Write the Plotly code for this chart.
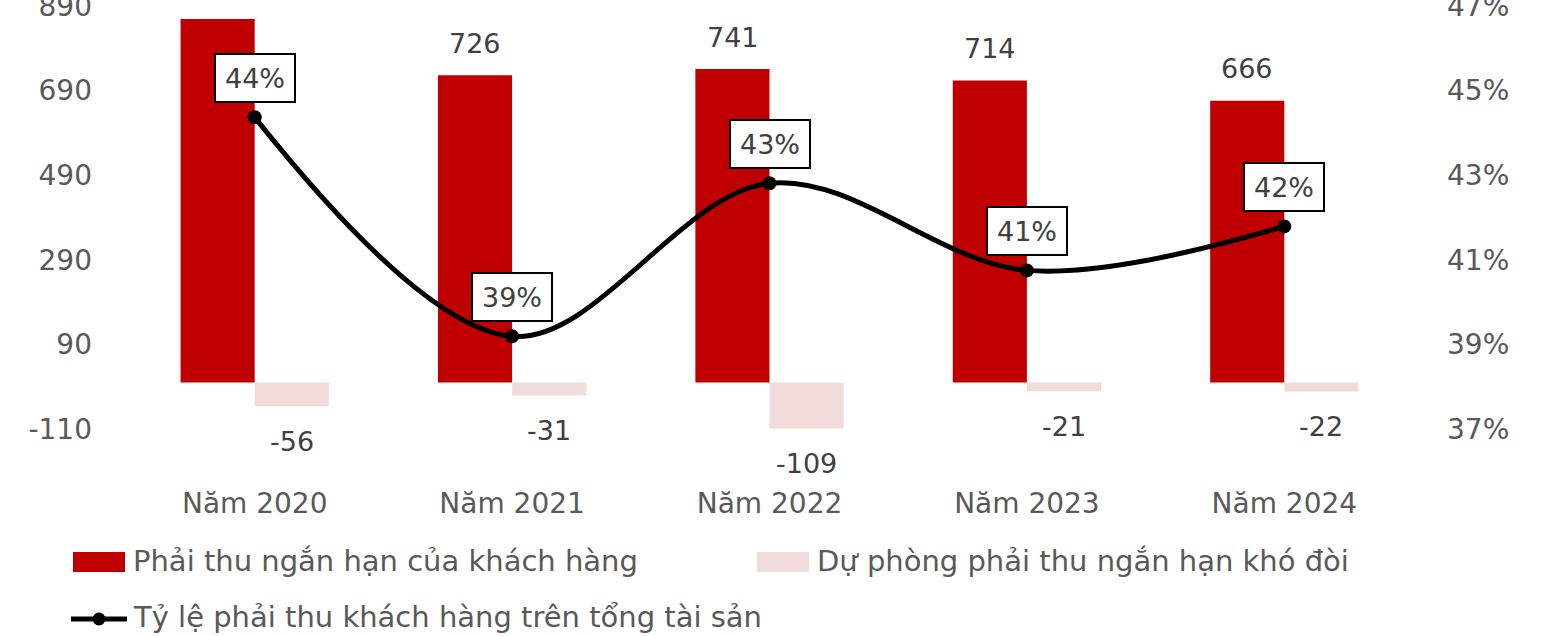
import plotly.graph_objects as go

categories = ["Năm 2020", "Năm 2021", "Năm 2022", "Năm 2023", "Năm 2024"]
receivables = [859, 726, 741, 714, 666]
provisions = [-56, -31, -109, -21, -22]
ratio = [0.4437, 0.3919, 0.4281, 0.4075, 0.4179]
ratio_labels = ["44%", "39%", "43%", "41%", "42%"]
left_ticks = [-110, 90, 290, 490, 690, 890]
right_ticks = [0.37, 0.39, 0.41, 0.43, 0.45, 0.47]

name_rec = "Phải thu ngắn hạn của khách hàng"
name_prov = "Dự phòng phải thu ngắn hạn khó đòi"
name_ratio = "Tỷ lệ phải thu khách hàng trên tổng tài sản"

RED = "#C00000"
PINK = "#F2DCDB"
FONT = "DejaVu Sans"
AXIS_GREY = "#595959"
LABEL_GREY = "#404040"

W, H = 1549, 636
L, R, T, B = 126, 136, 6, 207
PW, PH = W - L - R, H - T - B


def px(x):
    return (x - L) / PW


def py(y):
    return (H - B - y) / PH


fig = go.Figure()
fig.add_trace(go.Bar(x=categories, y=receivables, name=name_rec,
                     marker=dict(color=RED, line=dict(width=0)), showlegend=False))
fig.add_trace(go.Bar(x=categories, y=provisions, name=name_prov,
                     marker=dict(color=PINK, line=dict(width=0)), showlegend=False))
fig.add_trace(go.Scatter(x=categories, y=ratio, name=name_ratio, yaxis="y2",
                         mode="lines+markers",
                         line=dict(color="black", width=5, shape="spline", smoothing=1.0),
                         marker=dict(color="black", size=14), showlegend=False))

annotations = []
for i, v in enumerate(receivables):
    annotations.append(dict(x=categories[i], y=v, xref="x", yref="y", text=str(v),
                            showarrow=False, xshift=-37, yshift=32,
                            font=dict(family=FONT, size=27, color=LABEL_GREY)))
for i, v in enumerate(provisions):
    annotations.append(dict(x=categories[i], y=v, xref="x", yref="y", text=str(v),
                            showarrow=False, xshift=37, yshift=-35,
                            font=dict(family=FONT, size=27, color=LABEL_GREY)))
for i, v in enumerate(ratio):
    annotations.append(dict(x=categories[i], y=v, xref="x", yref="y2", text=ratio_labels[i],
                            showarrow=False, yshift=39, width=66, height=34,
                            bgcolor="white", bordercolor="black", borderwidth=2, borderpad=6,
                            font=dict(family=FONT, size=27, color=LABEL_GREY)))

# custom legend
shapes = [
    dict(type="rect", xref="paper", yref="paper", x0=px(73), x1=px(125), y0=py(572), y1=py(552),
         fillcolor=RED, line=dict(width=0)),
    dict(type="rect", xref="paper", yref="paper", x0=px(757), x1=px(809), y0=py(572), y1=py(552),
         fillcolor=PINK, line=dict(width=0)),
    dict(type="line", xref="paper", yref="paper", x0=px(71), x1=px(127), y0=py(619), y1=py(619),
         line=dict(color="black", width=5)),
    dict(type="circle", xref="paper", yref="paper", x0=px(92.5), x1=px(105.5), y0=py(625.5), y1=py(612.5),
         fillcolor="black", line=dict(width=0)),
]
for text, x, y in [(name_rec, 131, 561), (name_prov, 815, 561), (name_ratio, 131, 617)]:
    annotations.append(dict(x=px(x), y=py(y), xref="paper", yref="paper", text=text,
                            showarrow=False, xanchor="left", yanchor="middle",
                            font=dict(family=FONT, size=29, color=AXIS_GREY)))

fig.update_layout(
    width=W, height=H,
    margin=dict(l=L, r=R, t=T, b=B, pad=0, autoexpand=False),
    plot_bgcolor="white", paper_bgcolor="white",
    barmode="group", bargap=0.424, bargroupgap=0,
    font=dict(family=FONT, size=28, color=AXIS_GREY),
    xaxis=dict(showgrid=False, zeroline=False, showline=False, ticks="", automargin=False,
               ticklabelstandoff=55, tickfont=dict(family=FONT, size=28, color=AXIS_GREY)),
    yaxis=dict(range=[-110, 890], tickvals=left_ticks, ticktext=[str(t) for t in left_ticks],
               showgrid=False, zeroline=False, showline=False, ticks="", automargin=False,
               ticklabeloverflow="allow",
               ticklabelstandoff=33, tickfont=dict(family=FONT, size=28, color=AXIS_GREY)),
    yaxis2=dict(range=[0.37, 0.47], tickvals=right_ticks,
                ticktext=[f"{round(t * 100)}%" for t in right_ticks],
                overlaying="y", side="right",
                showgrid=False, zeroline=False, showline=False, ticks="", automargin=False,
                ticklabeloverflow="allow",
                ticklabelstandoff=33, tickfont=dict(family=FONT, size=28, color=AXIS_GREY)),
    annotations=annotations,
    shapes=shapes,
)

fig.write_html("out.html", config={"displayModeBar": False},
               post_script="document.body.style.margin='0';document.body.style.padding='0';")
